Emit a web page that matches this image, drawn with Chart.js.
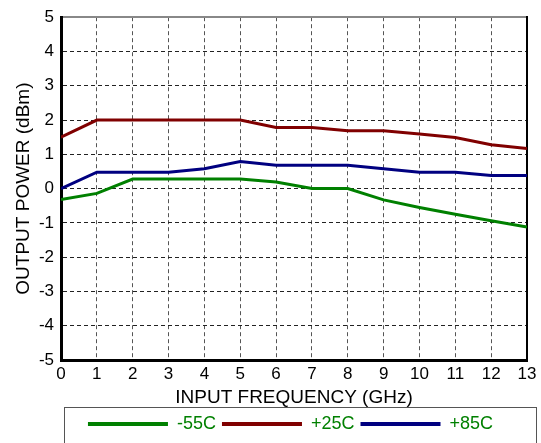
<!DOCTYPE html>
<html>
<head>
<meta charset="utf-8">
<title>Output Power vs Input Frequency</title>
<script src="https://cdn.jsdelivr.net/npm/chart.js@4/dist/chart.umd.min.js"></script>
<style>
  html, body { margin: 0; padding: 0; background: #fff; }
  #wrap { width: 541px; height: 443px; }
</style>
</head>
<body>
<div id="wrap"><canvas id="powerChart" width="541" height="443"></canvas></div>
<script>
// ============================================================
// Data
// ============================================================

const freqs = [0, 1, 2, 3, 4, 5, 6, 7, 8, 9, 10, 11, 12, 13];
const seriesNames = ["-55C", "+25C", "+85C"];
const coldPower = [-0.32, -0.14, 0.28, 0.28, 0.28, 0.28, 0.19, 0.0, 0.0, -0.33, -0.55, -0.75, -0.94, -1.12];
const roomPower = [1.5, 2.0, 2.0, 2.0, 2.0, 2.0, 1.78, 1.78, 1.69, 1.69, 1.59, 1.49, 1.28, 1.17];
const hotPower = [0.0, 0.48, 0.48, 0.48, 0.58, 0.79, 0.68, 0.68, 0.68, 0.58, 0.48, 0.48, 0.38, 0.38];
const yTicks = [-5, -4, -3, -2, -1, 0, 1, 2, 3, 4, 5];

// ============================================================
// Helpers
// ============================================================

function toPoints(values) {
  return freqs.map((f, i) => ({ x: f, y: values[i] }));
}

function lineSet(label, values, color) {
  return {
    label: label,
    data: toPoints(values),
    borderColor: color,
    backgroundColor: color,
    borderWidth: 3,
    pointRadius: 0,
    tension: 0
  };
}

// box around the legend + shift legend to where the original has it
const legendFrame = {
  id: 'legendFrame',
  afterLayout(chart) {
    const lg = chart.legend;
    lg.left = 44;
    lg.right = 537;
    lg.width = lg.right - lg.left;
  },
  afterDraw(chart) {
    const ctx = chart.ctx;
    ctx.save();
    ctx.strokeStyle = '#555';
    ctx.lineWidth = 1;
    ctx.strokeRect(64.5, 407.5, 472, 60);
    ctx.restore();
  }
};

// ============================================================
// Chart
// ============================================================

Chart.defaults.font.family = '"Liberation Sans", Arial, sans-serif';
Chart.defaults.color = '#000';

const ctx = document.getElementById('powerChart').getContext('2d');

const chart = new Chart(ctx, {
  type: 'line',
  data: {
    datasets: [
      lineSet(seriesNames[0], coldPower, '#008000'),
      lineSet(seriesNames[1], roomPower, '#800000'),
      lineSet(seriesNames[2], hotPower, '#000080')
    ]
  },
  plugins: [legendFrame],
  options: {
    responsive: false,
    animation: false,
    devicePixelRatio: 1,
    layout: { padding: 0 },
    plugins: {
      tooltip: { enabled: false },
      legend: {
        position: 'bottom',
        labels: {
          color: '#008000',
          font: { size: 18 },
          boxWidth: 80,
          boxHeight: 4,
          padding: 6,
          generateLabels(c) {
            const items = Chart.defaults.plugins.legend.labels.generateLabels(c);
            return items.map(it => Object.assign(it, { lineWidth: 0, fillStyle: it.strokeStyle }));
          }
        }
      }
    },
    scales: {
      x: {
        type: 'linear',
        position: 'bottom',
        min: 0,
        max: 13,
        ticks: { stepSize: 1, padding: 4, font: { size: 17 }, maxRotation: 0 },
        grid: { color: '#555', lineWidth: 1, drawTicks: false },
        border: { color: '#000', width: 3, dash: [4, 3] },
        title: {
          display: true,
          text: 'INPUT FREQUENCY (GHz)',
          font: { size: 19 },
          padding: { top: 0, bottom: 0 }
        },
        afterFit(s) {
          const lgH = s.chart.legend ? s.chart.legend.height : 34;
          s.height = s.chart.height - lgH - 360;
        }
      },
      x2: {
        type: 'linear',
        position: 'top',
        min: 0,
        max: 13,
        ticks: { display: false },
        grid: { drawOnChartArea: false, drawTicks: false },
        border: { color: '#888', width: 2 },
        afterFit(s) { s.height = 15; }
      },
      y: {
        type: 'linear',
        position: 'left',
        min: yTicks[0],
        max: yTicks[yTicks.length - 1],
        afterBuildTicks(s) { s.ticks = yTicks.map(v => ({ value: v })); },
        ticks: { padding: 7, font: { size: 17 } },
        grid: { color: '#222', lineWidth: 1, drawTicks: false },
        border: { color: '#000', width: 3, dash: [4, 3] },
        title: {
          display: true,
          text: 'OUTPUT POWER (dBm)',
          font: { size: 19 },
          padding: { top: 12, bottom: 0 }
        },
        afterFit(s) { s.width = 61; }
      },
      y2: {
        type: 'linear',
        position: 'right',
        min: -5,
        max: 5,
        ticks: { display: false },
        grid: { drawOnChartArea: false, drawTicks: false },
        border: { color: '#000', width: 2 },
        afterFit(s) { s.width = 14; }
      }
    }
  }
});
</script>
</body>
</html>
